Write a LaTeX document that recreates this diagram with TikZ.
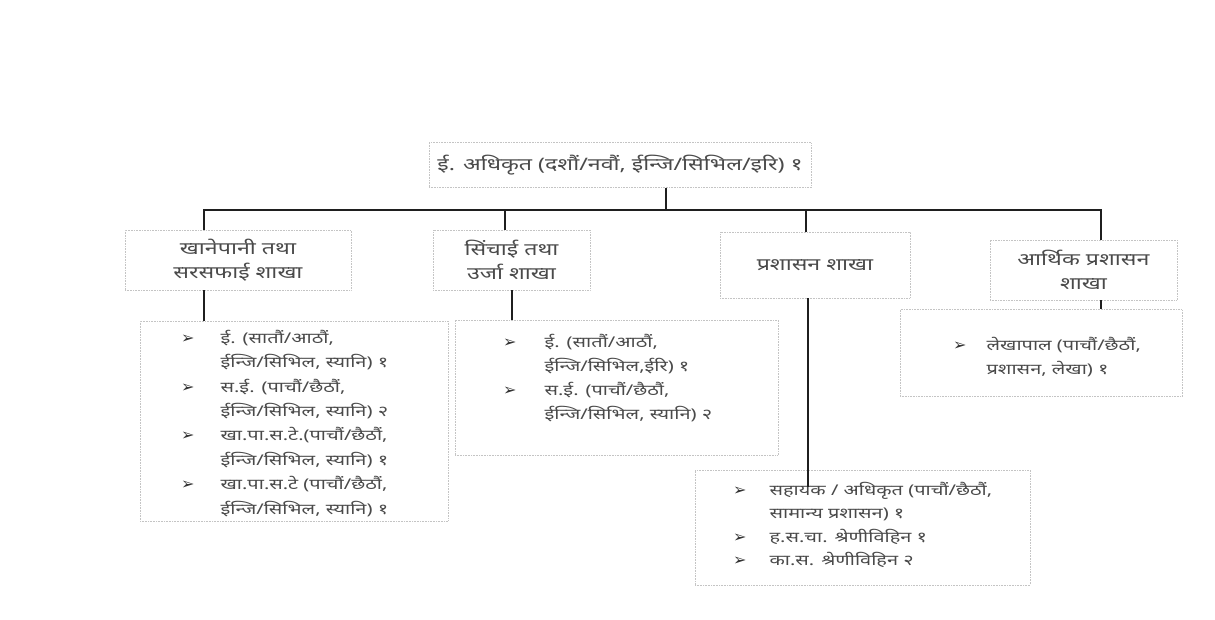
\documentclass[tikz,border=0pt]{standalone}
\usepackage{fontspec}
\setmainfont[Script=Devanagari, FakeStretch=1.35]{Noto Sans}
\newfontfamily\symfont{DejaVu Sans}
\usetikzlibrary{calc}
\definecolor{ink}{HTML}{4A4A4A}
\definecolor{frame}{HTML}{C4C4C4}
\newcommand\bul{{\symfont\fontsize{16}{16}\selectfont\color{black!80}➢}}
\begin{document}
\begin{tikzpicture}[x=1pt,y=-1pt,
  box/.style={draw=frame, densely dotted, line width=0.6pt, inner sep=0pt},
  lbl/.style={text=ink, font=\fontsize{17.2}{24.5}\selectfont, align=center, inner sep=0pt},
  lst/.style={text=ink, font=\fontsize{14.8}{23.8}\selectfont, inner sep=0pt, anchor=north west},
  conn/.style={line width=2.8pt, draw=black!88}]
\useasboundingbox (0,0) rectangle (1215,619);
\fill[white] (0,0) rectangle (1215,619);

% top
\node[box, minimum width=382, minimum height=45] (top) at (620,165) {};
\node[lbl] (toptxt) at (620,165) {ई. अधिकृत (दशौं/नवौं, ईन्जि/सिभिल/इरि) १};

% second level
\node[box, minimum width=226, minimum height=60] (b1) at (238,260) {};
\node[lbl] (b1t) at (b1) {खानेपानी तथा\\सरसफाई शाखा};
\node[box, minimum width=157, minimum height=60] (b2) at (511.5,260) {};
\node[lbl] (b2t) at (b2) {सिंचाई तथा\\उर्जा शाखा};
\node[box, minimum width=190, minimum height=66] (b3) at (815,265) {};
\node[lbl] (b3t) at (b3) {प्रशासन शाखा};
\node[box, minimum width=187, minimum height=60] (b4) at (1083.5,270) {};
\node[lbl] (b4t) at (b4) {आर्थिक प्रशासन\\शाखा};

% third level boxes
\node[box, minimum width=308, minimum height=200] (c1) at (294,421) {};
\node[lst, font=\fontsize{14.8}{24.4}\selectfont] (c1t) at (181,326) {\begin{tabular}{@{}l@{\hspace{26pt}}l@{}}
\bul & ई. (सातौं/आठौं,\\
 & ईन्जि/सिभिल, स्यानि) १\\
\bul & स.ई. (पाचौं/छैठौं,\\
 & ईन्जि/सिभिल, स्यानि) २\\
\bul & खा.पा.स.टे.(पाचौं/छैठौं,\\
 & ईन्जि/सिभिल, स्यानि) १\\
\bul & खा.पा.स.टे (पाचौं/छैठौं,\\
 & ईन्जि/सिभिल, स्यानि) १
\end{tabular}};

\node[box, minimum width=323, minimum height=135] (c2) at (616.5,387.5) {};
\node[lst] (c2t) at (503,331) {\begin{tabular}{@{}l@{\hspace{28pt}}l@{}}
\bul & ई. (सातौं/आठौं,\\
 & ईन्जि/सिभिल,ईरि) १\\
\bul & स.ई. (पाचौं/छैठौं,\\
 & ईन्जि/सिभिल, स्यानि) २
\end{tabular}};

\node[box, minimum width=335, minimum height=115] (c3) at (862.5,527.5) {};
\node[lst, font=\fontsize{14.8}{23.4}\selectfont] (c3t) at (733,479) {\begin{tabular}{@{}l@{\hspace{23pt}}l@{}}
\bul & सहायक / अधिकृत (पाचौं/छैठौं,\\
 & सामान्य प्रशासन) १\\
\bul & ह.स.चा. श्रेणीविहिन १\\
\bul & का.स. श्रेणीविहिन २
\end{tabular}};

\node[box, minimum width=282, minimum height=87] (c4) at (1041,353) {};
\node[lst] (c4t) at (953,334) {\begin{tabular}{@{}l@{\hspace{20pt}}l@{}}
\bul & लेखापाल (पाचौं/छैठौं,\\
 & प्रशासन, लेखा) १
\end{tabular}};

% connector guide coordinates
\coordinate (bus) at (666,210);
\coordinate (u1) at (204,0);
\coordinate (u2) at (505,0);
\coordinate (u3) at (806,0);
\coordinate (u4) at (1101,0);
\coordinate (d2) at (512,0);
\coordinate (d3) at (808,0);

\draw[conn] (top.south -| bus) -- (bus);
\draw[conn] (b1.north -| u1) -- (u1 |- bus) -- (u4 |- bus) -- (b4.north -| u4);
\draw[conn] (u2 |- bus) -- (b2.north -| u2);
\draw[conn] (u3 |- bus) -- (b3.north -| u3);

\draw[conn] (b1.south -| u1) -- (c1.north -| u1);
\draw[conn] (b2.south -| d2) -- (c2.north -| d2);
\draw[conn] (b3.south -| d3) -- ($(c3.north -| d3)+(0,17)$);
\draw[conn] (b4.south -| u4) -- (c4.north -| u4);
\end{tikzpicture}
\end{document}
